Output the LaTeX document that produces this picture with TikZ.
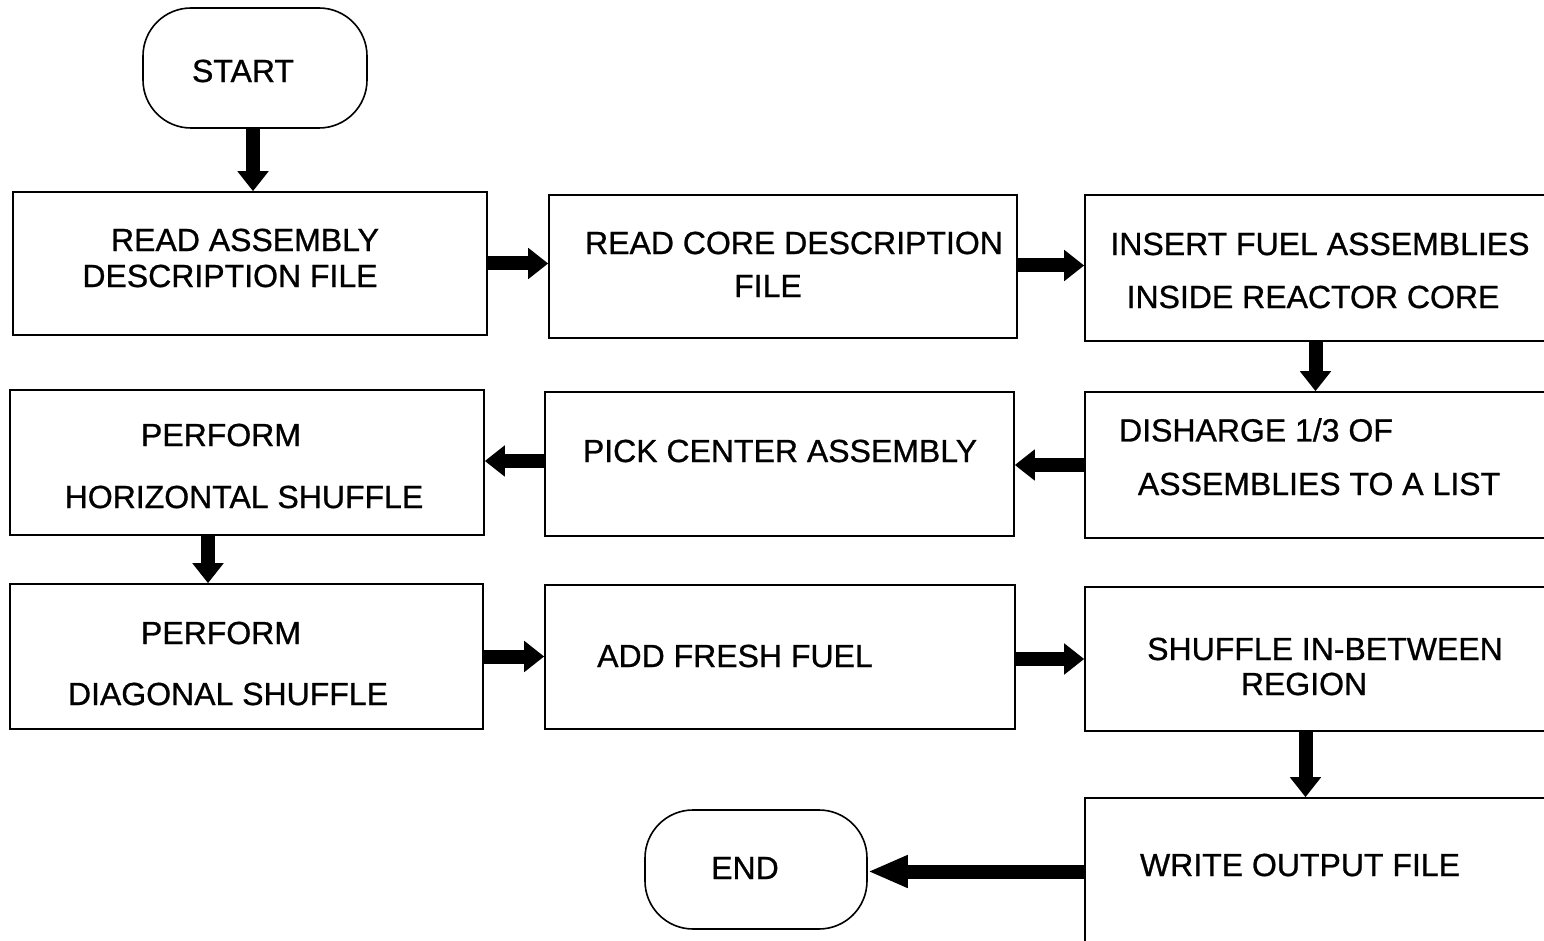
\documentclass[tikz,border=0pt]{standalone}
\usepackage{fontspec}
\setmainfont{Liberation Sans}
\newfontfamily\heavysans[FakeBold=0.8]{Liberation Sans}
\usetikzlibrary{arrows.meta}

\tikzset{
  box/.style={draw, line width=0.8pt, fill=white, inner sep=0pt},
  term/.style={box, rounded corners=24pt},
  txt/.style={inner sep=0pt, font=\heavysans\fontsize{16}{19}\selectfont},
  arr/.style={line width=7pt, -{Triangle[width=15pt,length=10pt]}},
  bigarr/.style={line width=7pt, -{Triangle[width=15pt,length=20pt]}}
}

\begin{document}
\begin{tikzpicture}[x=0.5pt, y=-0.5pt]
        \useasboundingbox (0,0) rectangle (1544,941);
        \clip (0,0) rectangle (1544,941);

        % Draw boxes
        \node[term, minimum width=112pt, minimum height=60pt] (start) at (255,68) {};
        \node[box, minimum width=237pt, minimum height=71.5pt] (b1) at (250,263.5) {};
        \node[box, minimum width=234pt, minimum height=71.5pt] (b2) at (783,266.5) {};
        \node[box, minimum width=237.5pt, minimum height=73pt] (b3) at (1322.5,268) {};
        \node[box, minimum width=237.5pt, minimum height=73pt] (b6) at (1322.5,465) {};
        \node[box, minimum width=234.5pt, minimum height=72pt] (b5) at (779.5,464) {};
        \node[box, minimum width=237pt, minimum height=72.5pt] (b4) at (247,462.5) {};
        \node[box, minimum width=236.5pt, minimum height=72.5pt] (b7) at (246.5,656.5) {};
        \node[box, minimum width=235pt, minimum height=72pt] (b8) at (780,657) {};
        \node[box, minimum width=237.5pt, minimum height=72pt] (b9) at (1322.5,659) {};
        \node[box, minimum width=237.5pt, minimum height=91pt] (b10) at (1322.5,889) {};
        \node[term, minimum width=111pt, minimum height=59.5pt] (end) at (756,869.5) {};

        % Draw texts
        \node[txt] (tstart) at (243,71) {START};
        \node[txt] (t1a) at (245,240) {READ ASSEMBLY};
        \node[txt] (t1b) at (230,276) {DESCRIPTION FILE};
        \node[txt] (t2a) at (794,243) {READ CORE DESCRIPTION};
        \node[txt] (t2b) at (768,286) {FILE};
        \node[txt] (t3a) at (1320,244) {INSERT FUEL ASSEMBLIES};
        \node[txt] (t3b) at (1313,297) {INSIDE REACTOR CORE};
        \node[txt] (t6a) at (1256,430) {DISHARGE 1/3 OF};
        \node[txt] (t6b) at (1319,484) {ASSEMBLIES TO A LIST};
        \node[txt] (t5) at (780,451) {PICK CENTER ASSEMBLY};
        \node[txt] (t4a) at (221,435) {PERFORM};
        \node[txt] (t4b) at (244,497) {HORIZONTAL SHUFFLE};
        \node[txt] (t7a) at (221,633) {PERFORM};
        \node[txt] (t7b) at (228,694) {DIAGONAL SHUFFLE};
        \node[txt] (t8) at (735,656) {ADD FRESH FUEL};
        \node[txt] (t9a) at (1325,649) {SHUFFLE IN-BETWEEN};
        \node[txt] (t9b) at (1304,684) {REGION};
        \node[txt] (t10) at (1300,865) {WRITE OUTPUT FILE};
        \node[txt] (tend) at (745,868) {END};

        % Draw connections
        \draw[arr] ([xshift=-1pt]start.south) -- ([xshift=-1pt]start.south |- b1.north);
        \draw[arr] (b1.east) -- (b1.east -| b2.west);
        \draw[arr] ([yshift=0.5pt]b2.east) -- ([yshift=0.5pt]b2.east -| b3.west);
        \draw[arr] ([xshift=-3.5pt]b3.south) -- ([xshift=-3.5pt]b3.south |- b6.north);
        \draw[arr] (b6.west) -- (b6.west -| b5.east);
        \draw[arr] ([yshift=1.5pt]b5.west) -- ([yshift=1.5pt]b5.west -| b4.east);
        \draw[arr] ([xshift=-19.5pt]b4.south) -- ([xshift=-19.5pt]b4.south |- b7.north);
        \draw[arr] (b7.east) -- (b7.east -| b8.west);
        \draw[arr] ([yshift=-1pt]b8.east) -- ([yshift=-1pt]b8.east -| b9.west);
        \draw[arr] ([xshift=-8.5pt]b9.south) -- ([xshift=-8.5pt]b9.south |- b10.north);
        \draw[bigarr] ([yshift=-1pt]end.east -| b10.west) -- ([yshift=-1pt]end.east);
\end{tikzpicture}
\end{document}
